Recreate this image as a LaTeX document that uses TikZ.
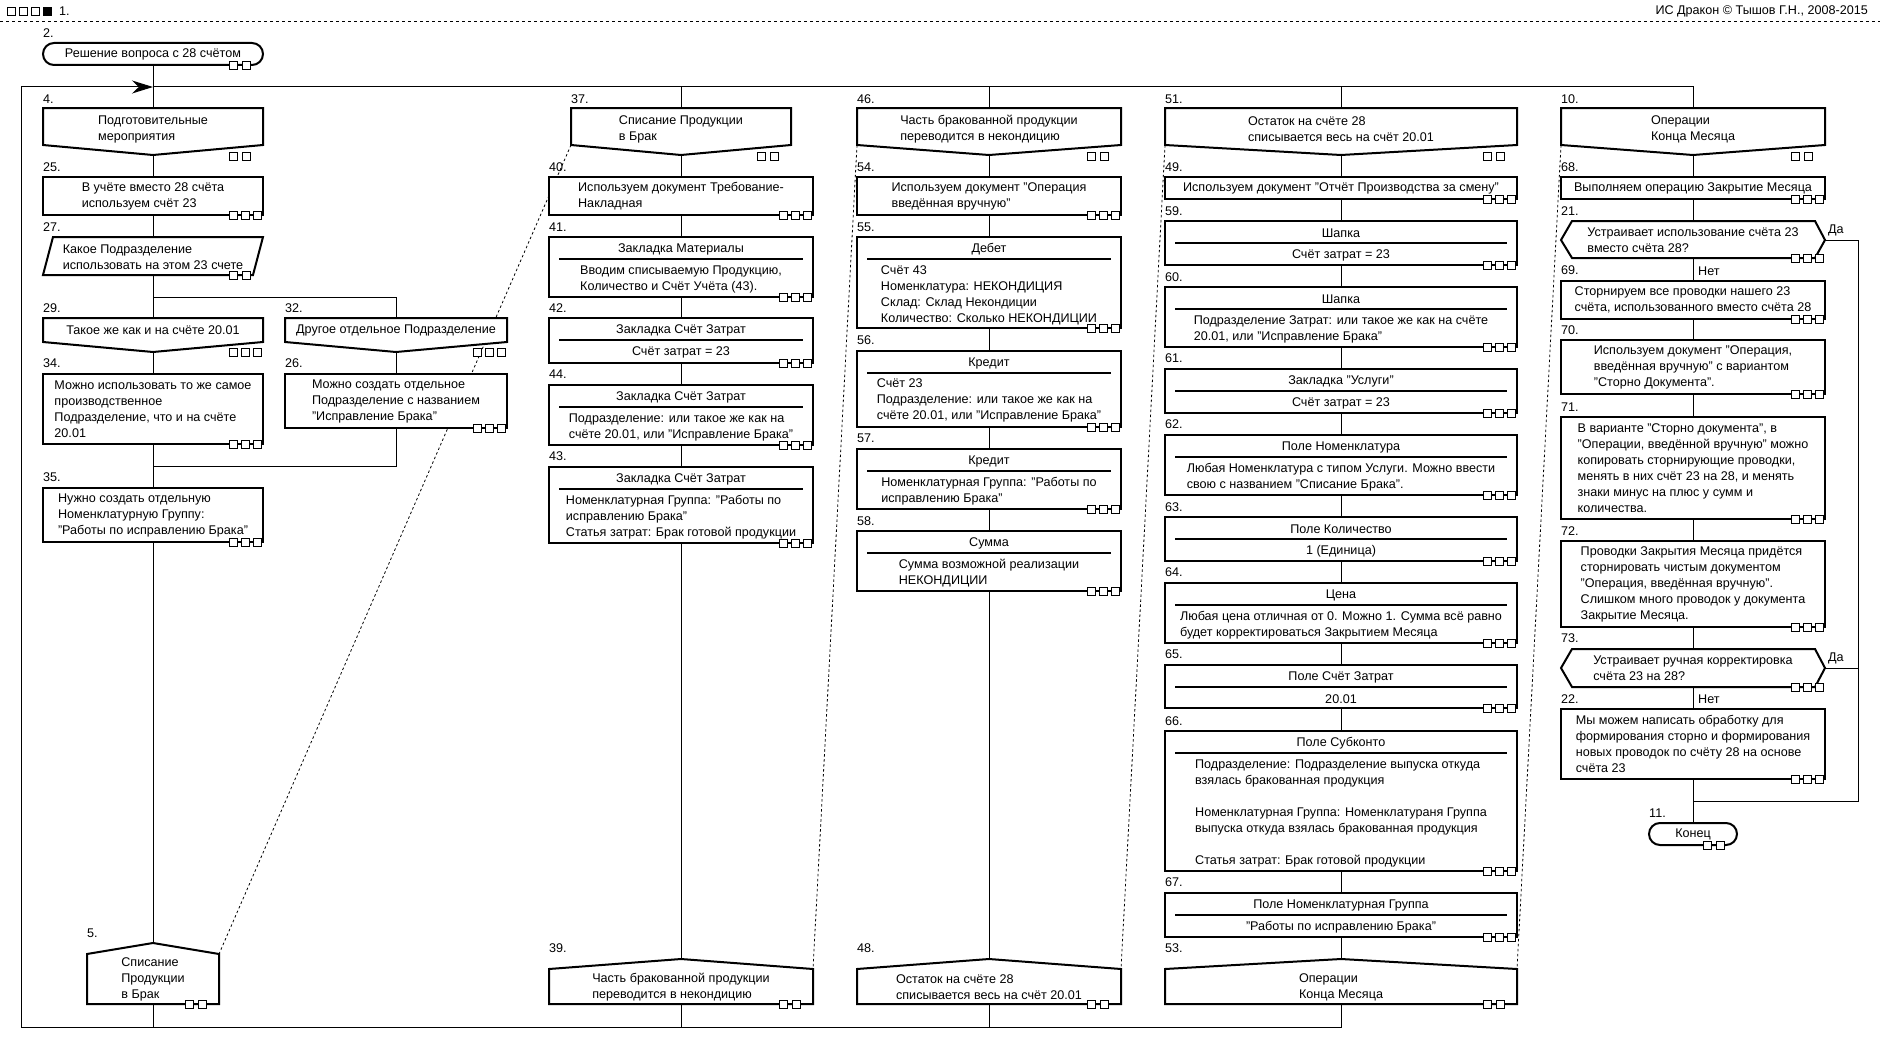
\documentclass[tikz,border=0pt]{standalone}
\usepackage{fontspec}
\setmainfont{Liberation Sans}
\usetikzlibrary{arrows.meta,calc}

\pgfdeclarelayer{back}
\pgfdeclarelayer{bg}
\pgfsetlayers{back,bg,main}

\begin{document}
\begin{tikzpicture}[x=1pt,y=-1pt,
	font=\fontsize{12.6}{16}\selectfont,
	box/.style={draw, line width=2pt, fill=white, align=left, inner sep=0pt, outer sep=0pt},
	iconline/.style={draw, line width=2pt, fill=white},
	txt/.style={align=left, inner sep=1pt},
	num/.style={anchor=west, inner sep=0pt},
	tabline/.style={line width=2pt},
	port/.style={draw, line width=0.8pt, fill=white},
	wire/.style={line width=1pt},
	sil/.style={line width=0.8pt, dash pattern=on 2.5pt off 2.5pt}]

	\useasboundingbox (0,0) rectangle (1880,1049);
	\begin{pgfonlayer}{back}
		\fill[white] (0,0) rectangle (1880,1049);
	\end{pgfonlayer}

	% title line
	\foreach \x in {7,19,31}
		\draw[port] (\x,7) rectangle ++(8,8);
	\fill (43,7) rectangle ++(9,9);
	\node[num] (title) at (59,11) {1.};
	\node[anchor=east, inner sep=0pt] (copyr) at (1868,11) {ИС Дракон © Тышов Г.Н., 2008-2015};
	\draw[dash pattern=on 3pt off 3pt] (0,21) -- (1880,21);

	% numbers of the icons
	\foreach \x/\y/\nr in {43/33/2, 43/99/4, 43/167/25, 43/227/27, 43/308/29, 285/308/32,
			43/363/34, 285/363/26, 43/477/35, 87/933/5,
			571/99/37, 549/167/40, 549/227/41, 549/308/42, 549/374/44, 549/456/43, 549/948/39,
			857/99/46, 857/167/54, 857/227/55, 857/340/56, 857/438/57, 857/521/58, 857/948/48,
			1165/99/51, 1165/167/49, 1165/211/59, 1165/277/60, 1165/358/61, 1165/424/62,
			1165/507/63, 1165/572/64, 1165/654/65, 1165/721/66, 1165/882/67, 1165/948/53,
			1561/99/10, 1561/167/68, 1561/211/21, 1561/270/69, 1561/330/70, 1561/407/71,
			1561/531/72, 1561/638/73, 1561/699/22, 1649/813/11}
		\node[num] (n\nr) at (\x,\y) {\nr.};

	% column 1: Подготовительные мероприятия
	\node[box, rounded corners=11, minimum width=220, minimum height=22] (t2) at (153,54) {Решение вопроса с 28 счётом};
	\draw[iconline] (43,108) -- (263,108) -- (263,145) -- (153,155) -- (43,145) -- cycle;
	\node[txt] (h4) at (153,129) {Подготовительные\\мероприятия};
	\node[box, minimum width=220, minimum height=38] (a25) at (153,196) {В учёте вместо 28 счёта\\используем счёт 23};
	\draw[iconline] (53,237) -- (263,237) -- (253,275) -- (43,275) -- cycle;
	\node[txt] (p27) at (153,257) {Какое Подразделение\\использовать на этом 23 счете};
	\draw[iconline] (43,318) -- (263,318) -- (263,342) -- (153,352) -- (43,342) -- cycle;
	\node[txt] (c29) at (153,330) {Такое же как и на счёте 20.01};
	\draw[iconline] (285,318) -- (507,318) -- (507,342) -- (396,352) -- (285,342) -- cycle;
	\node[txt] (c32) at (396,330) {Другое отдельное Подразделение};
	\node[box, minimum width=220, minimum height=70] (a34) at (153,409) {Можно использовать то же самое\\производственное\\Подразделение, что и на счёте\\20.01};
	\node[box, minimum width=222, minimum height=54] (a26) at (396,401) {Можно создать отдельное\\Подразделение с названием\\"Исправление Брака"};
	\node[box, minimum width=220, minimum height=54] (a35) at (153,515) {Нужно создать отдельную\\Номенклатурную Группу:\\"Работы по исправлению Брака"};
	\draw[iconline] (87,1004) -- (87,954) -- (153,943) -- (219,954) -- (219,1004) -- cycle;
	\node[txt] (d5) at (153,979) {Списание\\Продукции\\в Брак};

	% column 2: Списание Продукции в Брак
	\draw[iconline] (571,108) -- (791,108) -- (791,145) -- (681,155) -- (571,145) -- cycle;
	\node[txt] (h37) at (681,129) {Списание Продукции\\в Брак};
	\node[box, minimum width=264, minimum height=38] (a40) at (681,196) {Используем документ Требование-\\Накладная};
	\node[box, minimum width=264, minimum height=60] (a41) at (681,267) {};
	\node[txt] (a41h) at (681,249) {Закладка Материалы};
	\node[txt] (a41b) at (681,279) {Вводим списываемую Продукцию,\\Количество и Счёт Учёта (43).};
	\node[box, minimum width=264, minimum height=45] (a42) at (681,340.5) {};
	\node[txt] (a42h) at (681,330) {Закладка Счёт Затрат};
	\node[txt] (a42b) at (681,352) {Счёт затрат = 23};
	\node[box, minimum width=264, minimum height=60] (a44) at (681,415) {};
	\node[txt] (a44h) at (681,397) {Закладка Счёт Затрат};
	\node[txt] (a44b) at (681,427) {Подразделение: или такое же как на\\счёте 20.01, или "Исправление Брака"};
	\node[box, minimum width=264, minimum height=76] (a43) at (681,505) {};
	\node[txt] (a43h) at (681,479) {Закладка Счёт Затрат};
	\node[txt] (a43b) at (681,517) {Номенклатурная Группа: "Работы по\\исправлению Брака"\\Статья затрат: Брак готовой продукции};
	\draw[iconline] (549,1004) -- (549,969) -- (681,959) -- (813,969) -- (813,1004) -- cycle;
	\node[txt] (d39) at (681,987) {Часть бракованной продукции\\переводится в некондицию};

	% column 3: Часть бракованной продукции переводится в некондицию
	\draw[iconline] (857,108) -- (1121,108) -- (1121,145) -- (989,155) -- (857,145) -- cycle;
	\node[txt] (h46) at (989,129) {Часть бракованной продукции\\переводится в некондицию};
	\node[box, minimum width=264, minimum height=38] (a54) at (989,196) {Используем документ "Операция\\введённая вручную"};
	\node[box, minimum width=264, minimum height=91] (a55) at (989,282.5) {};
	\node[txt] (a55h) at (989,249) {Дебет};
	\node[txt] (a55b) at (989,295) {Счёт 43\\Номенклатура: НЕКОНДИЦИЯ\\Склад: Склад Некондиции\\Количество: Сколько НЕКОНДИЦИИ};
	\node[box, minimum width=264, minimum height=76] (a56) at (989,389) {};
	\node[txt] (a56h) at (989,363) {Кредит};
	\node[txt] (a56b) at (989,400) {Счёт 23\\Подразделение: или такое же как на\\счёте 20.01, или "Исправление Брака"};
	\node[box, minimum width=264, minimum height=60] (a57) at (989,479) {};
	\node[txt] (a57h) at (989,461) {Кредит};
	\node[txt] (a57b) at (989,491) {Номенклатурная Группа: "Работы по\\исправлению Брака"};
	\node[box, minimum width=264, minimum height=60] (a58) at (989,561) {};
	\node[txt] (a58h) at (989,543) {Сумма};
	\node[txt] (a58b) at (989,573) {Сумма возможной реализации\\НЕКОНДИЦИИ};
	\draw[iconline] (857,1004) -- (857,969) -- (989,959) -- (1121,969) -- (1121,1004) -- cycle;
	\node[txt] (d48) at (989,987) {Остаток на счёте 28\\списывается весь на счёт 20.01};

	% column 4: Остаток на счёте 28
	\draw[iconline] (1165,108) -- (1517,108) -- (1517,145) -- (1341,155) -- (1165,145) -- cycle;
	\node[txt] (h51) at (1341,129) {Остаток на счёте 28\\списывается весь на счёт 20.01};
	\node[box, minimum width=352, minimum height=22] (a49) at (1341,188) {Используем документ "Отчёт Производства за смену"};
	\node[box, minimum width=352, minimum height=44] (a59) at (1341,243) {};
	\node[txt] (a59h) at (1341,233) {Шапка};
	\node[txt] (a59b) at (1341,255) {Счёт затрат = 23};
	\node[box, minimum width=352, minimum height=60] (a60) at (1341,317) {};
	\node[txt] (a60h) at (1341,299) {Шапка};
	\node[txt] (a60b) at (1341,329) {Подразделение Затрат: или такое же как на счёте\\20.01, или "Исправление Брака"};
	\node[box, minimum width=352, minimum height=44] (a61) at (1341,391) {};
	\node[txt] (a61h) at (1341,381) {Закладка "Услуги"};
	\node[txt] (a61b) at (1341,403) {Счёт затрат = 23};
	\node[box, minimum width=352, minimum height=60] (a62) at (1341,465) {};
	\node[txt] (a62h) at (1341,447) {Поле Номенклатура};
	\node[txt] (a62b) at (1341,477) {Любая Номенклатура с типом Услуги. Можно ввести\\свою с названием "Списание Брака".};
	\node[box, minimum width=352, minimum height=44] (a63) at (1341,539) {};
	\node[txt] (a63h) at (1341,529) {Поле Количество};
	\node[txt] (a63b) at (1341,551) {1 (Единица)};
	\node[box, minimum width=352, minimum height=60] (a64) at (1341,613) {};
	\node[txt] (a64h) at (1341,595) {Цена};
	\node[txt] (a64b) at (1341,625) {Любая цена отличная от 0. Можно 1. Сумма всё равно\\будет корректироваться Закрытием Месяца};
	\node[box, minimum width=352, minimum height=43] (a65) at (1341,686.5) {};
	\node[txt] (a65h) at (1341,677) {Поле Счёт Затрат};
	\node[txt] (a65b) at (1341,699) {20.01};
	\node[box, minimum width=352, minimum height=140] (a66) at (1341,801) {};
	\node[txt] (a66h) at (1341,743) {Поле Субконто};
	\node[txt] (a66b) at (1341,813) {Подразделение: Подразделение выпуска откуда\\взялась бракованная продукция\\[16pt]Номенклатурная Группа: Номенклатураня Группа\\выпуска откуда взялась бракованная продукция\\[16pt]Статья затрат: Брак готовой продукции};
	\node[box, minimum width=352, minimum height=44] (a67) at (1341,915) {};
	\node[txt] (a67h) at (1341,905) {Поле Номенклатурная Группа};
	\node[txt] (a67b) at (1341,927) {"Работы по исправлению Брака"};
	\draw[iconline] (1165,1004) -- (1165,969) -- (1341,959) -- (1517,969) -- (1517,1004) -- cycle;
	\node[txt] (d53) at (1341,987) {Операции\\Конца Месяца};

	% column 5: Операции Конца Месяца
	\draw[iconline] (1561,108) -- (1825,108) -- (1825,145) -- (1693,155) -- (1561,145) -- cycle;
	\node[txt] (h10) at (1693,129) {Операции\\Конца Месяца};
	\node[box, minimum width=264, minimum height=22] (a68) at (1693,188) {Выполняем операцию Закрытие Месяца};
	\draw[iconline] (1561,240) -- (1572,221) -- (1815,221) -- (1825,240) -- (1815,258) -- (1572,258) -- cycle;
	\node[txt] (q21) at (1693,240) {Устраивает использование счёта 23\\вместо счёта 28?};
	\node[box, minimum width=264, minimum height=38] (a69) at (1693,300) {Сторнируем все проводки нашего 23\\счёта, использованного вместо счёта 28};
	\node[box, minimum width=264, minimum height=54] (a70) at (1693,367) {Используем документ "Операция,\\введённая вручную" с вариантом\\"Сторно Документа".};
	\node[box, minimum width=264, minimum height=102] (a71) at (1693,468) {В варианте "Сторно документа", в\\"Операции, введённой вручную" можно\\копировать сторнирующие проводки,\\менять в них счёт 23 на 28, и менять\\знаки минус на плюс у сумм и\\количества.};
	\node[box, minimum width=264, minimum height=86] (a72) at (1693,584) {Проводки Закрытия Месяца придётся\\сторнировать чистым документом\\"Операция, введённая вручную".\\Слишком много проводок у документа\\Закрытие Месяца.};
	\draw[iconline] (1561,668) -- (1572,649) -- (1815,649) -- (1825,668) -- (1815,687) -- (1572,687) -- cycle;
	\node[txt] (q73) at (1693,668) {Устраивает ручная корректировка\\счёта 23 на 28?};
	\node[box, minimum width=264, minimum height=70] (a22) at (1693,744) {Мы можем написать обработку для\\формирования сторно и формирования\\новых проводок по счёту 28 на основе\\счёта 23};
	\node[box, rounded corners=11, minimum width=88, minimum height=22] (t11) at (1693,834) {Конец};
	\node[num] (yes21) at (1828,230) {Да};
	\node[num] (no21) at (1698,271) {Нет};
	\node[num] (yes73) at (1828,658) {Да};
	\node[num] (no73) at (1698,699) {Нет};

	% lines under the headers of the tabs
	\foreach \n in {a41,a42,a44,a43,a55,a56,a57,a58,a59,a60,a61,a62,a63,a64,a65,a66,a67}
		\draw[tabline] ($(\n.north west)+(10,22)$) -- ($(\n.north east)+(-10,22)$);

	% small squares
	\foreach \r/\b in {263/215, 263/444, 507/428, 263/542, 813/215, 813/297, 813/363, 813/445, 813/543,
			1121/215, 1121/328, 1121/427, 1121/509, 1121/591,
			1517/199, 1517/265, 1517/347, 1517/413, 1517/495, 1517/561, 1517/643, 1517/708, 1517/871, 1517/937,
			1825/199, 1825/258, 1825/319, 1825/394, 1825/519, 1825/627, 1825/687, 1825/779, 263/352, 507/352}
		\foreach \d in {34,22,10}
			\draw[port] (\r-\d,\b-4) rectangle ++(8,8);
	\foreach \r/\b in {263/65, 263/275, 219/1004, 813/1004, 1121/1004, 1517/1004, 1737/845}
		\foreach \d in {34,21}
			\draw[port] (\r-\d,\b-4) rectangle ++(8,8);
	\foreach \r in {263,791,1121,1517,1825}
		\foreach \d in {34,21}
			\draw[port] (\r-\d,152) rectangle ++(8,8);

	% connectors
	\begin{pgfonlayer}{bg}
		\coordinate (tl) at (153,87);
		\coordinate (bl) at (21,1027);
		\coordinate (fork) at (153,297);
		\coordinate (join) at (153,466);
		\coordinate (yes) at (1858,801);
		\coordinate (jn) at (1693,801);
		\draw[wire] (t2) -- (h4) -- (a25) -- (p27) -- (c29) -- (a34) -- (a35) -- (d5);
		\draw[wire] (fork) -| (c32) -- (a26) |- (join);
		\draw[wire] (tl) -| (h37);
		\draw[wire] (tl) -| (h46);
		\draw[wire] (tl) -| (h51);
		\draw[wire] (tl) -| (h10);
		\draw[wire] (h37) -- (a40) -- (a41) -- (a42) -- (a44) -- (a43) -- (d39);
		\draw[wire] (h46) -- (a54) -- (a55) -- (a56) -- (a57) -- (a58) -- (d48);
		\draw[wire] (h51) -- (a49) -- (a59) -- (a60) -- (a61) -- (a62) -- (a63) -- (a64) -- (a65) -- (a66) -- (a67) -- (d53);
		\draw[wire] (h10) -- (a68) -- (q21) -- (a69) -- (a70) -- (a71) -- (a72) -- (q73) -- (a22) -- (t11);
		\draw[wire] (q21) -| (yes) -- (jn);
		\draw[wire] (q73) -| (yes);
		\draw[wire] (d39) |- (bl);
		\draw[wire] (d48) |- (bl);
		\draw[wire] (d53) |- (bl);
		\draw[wire, -{Stealth[length=21pt, width=13pt]}] (d5) |- (bl) |- (tl);

		% dotted lines from the headers to the addresses
		\coordinate (s37) at (571,145);
		\coordinate (s5) at (219,954);
		\coordinate (s46) at (857,145);
		\coordinate (s39) at (813,969);
		\coordinate (s51) at (1165,145);
		\coordinate (s48) at (1121,969);
		\coordinate (s10) at (1561,145);
		\coordinate (s53) at (1517,969);
		\draw[sil] (s37) -- (s5);
		\draw[sil] (s46) -- (s39);
		\draw[sil] (s51) -- (s48);
		\draw[sil] (s10) -- (s53);
	\end{pgfonlayer}
\end{tikzpicture}
\end{document}
